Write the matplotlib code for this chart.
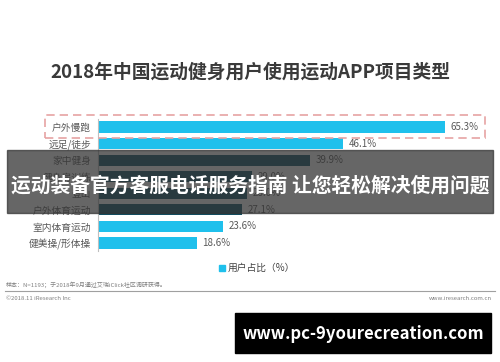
import matplotlib
matplotlib.use("Agg")
import matplotlib.pyplot as plt
from matplotlib.patches import Rectangle

plt.rcParams['font.family'] = ['Noto Sans CJK SC', 'DejaVu Sans']

# data
categories = ['户外慢跑', '远足/徒步', '家中健身', '健身房训练', '登山',
              '户外体育运动', '室内体育运动', '健美操/形体操']
values = [65.3, 46.1, 39.9, 29.0, 28.0, 27.1, 23.6, 18.6]
dark_rows = ['家中健身', '健身房训练', '登山', '户外体育运动']
title = '2018年中国运动健身用户使用运动APP项目类型'
legend_label = '用户占比（%）'

light = '#1fc0ec'
dark = '#0d5166'
W, H = 500, 362

fig = plt.figure(figsize=(5, 3.62), dpi=100)
fig.patch.set_facecolor('white')

def fx(px):
    return px / W

def fy(py):
    return 1 - py / H

ax = fig.add_axes([fx(98), fy(251.3), fx(382), 132.6 / H])
colors = [dark if c in dark_rows else light for c in categories]
ypos = list(range(len(categories)))
ax.barh(ypos, values, height=0.68, color=colors)
ax.set_ylim(len(categories) - 0.5, -0.5)
ax.set_xlim(0, 382 / 5.31)
ax.set_yticks(ypos)
ax.set_yticklabels(categories, fontsize=7, color='#595959')
ax.tick_params(axis='y', length=0, pad=5)
ax.set_xticks([])
for s in ['top', 'right', 'bottom']:
    ax.spines[s].set_visible(False)
ax.spines['left'].set_color('#bfbfbf')
ax.spines['left'].set_linewidth(0.8)
for y, v in zip(ypos, values):
    ax.annotate(f'{v:.1f}%', (v, y), xytext=(4, 0), textcoords='offset points',
                va='center', ha='left', fontsize=7, color='#595959')

# title
fig.text(0.5, fy(72), title, ha='center', va='center', fontsize=13.5,
         fontweight='bold', color='#3a3a3a')

# dashed highlight box
fig.patches.append(Rectangle((fx(45), fy(138)), fx(440), 23 / H,
                             transform=fig.transFigure, fill=False,
                             edgecolor='#e6a3a3', linestyle=(0, (5, 3)),
                             linewidth=1.2))

# legend
fig.patches.append(Rectangle((fx(219), fy(271)), fx(6), 6 / H,
                             transform=fig.transFigure, color=light))
fig.text(fx(228), fy(268), legend_label, ha='left', va='center',
         fontsize=7, color='#404040')

# footer
fig.text(fx(6), fy(285), '样本：N=1193；于2018年9月通过艾瑞iClick社区调研获得。',
         ha='left', va='center', fontsize=4.3, color='#808080')
fig.add_artist(plt.Line2D([fx(5), fx(495)], [fy(291), fy(291)],
                          transform=fig.transFigure, color='#a0a0a0', lw=0.8))
fig.text(fx(6), fy(298), '©2018.11 iResearch Inc', ha='left', va='center',
         fontsize=4.3, color='#808080')
fig.text(fx(492), fy(298), 'www.iresearch.com.cn', ha='right', va='center',
         fontsize=4.3, color='#808080')

# overlay banner
fig.patches.append(Rectangle((fx(7), fy(213)), fx(486), 63 / H,
                             transform=fig.transFigure, color='#333333',
                             alpha=0.75, zorder=5))
fig.text(0.5, fy(186), '运动装备官方客服电话服务指南 让您轻松解决使用问题',
         ha='center', va='center', fontsize=14.2, fontweight='bold',
         color='white', zorder=6)

# watermark box
fig.patches.append(Rectangle((fx(235), fy(353)), fx(256), 40 / H,
                             transform=fig.transFigure, color='black', zorder=5))
fig.text(fx(363), fy(334), 'www.pc-9yourecreation.com', ha='center',
         va='center', fontsize=12, fontweight='bold', color='white', zorder=6)

fig.savefig('out.png', dpi=100)
